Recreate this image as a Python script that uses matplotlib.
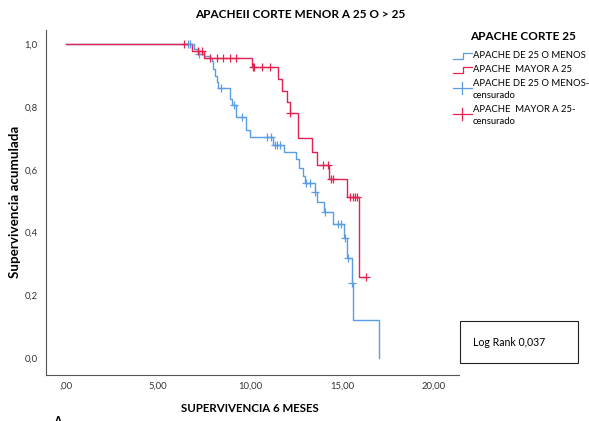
import matplotlib
matplotlib.use("Agg")
import matplotlib.pyplot as plt
import numpy as np
from matplotlib.patches import Rectangle

plt.rcParams['font.family'] = ['Lato', 'DejaVu Sans']

# Kaplan-Meier steps
red_t = [0, 6.85, 7.5, 10.1, 11.52, 11.74, 12.01, 12.17, 12.6, 13.37, 13.65, 14.3, 15.27, 15.92, 16.3]
red_s = [1.0, 0.978, 0.955, 0.927, 0.89, 0.85, 0.815, 0.78, 0.70, 0.656, 0.615, 0.57, 0.513, 0.258, 0.258]
red_cens = [6.4, 7.17, 7.39, 7.83, 8.2, 8.53, 8.91, 9.24, 10.16, 10.2, 10.65, 11.09, 12.2,
            13.97, 14.24, 14.4, 14.5, 15.43, 15.6, 15.7, 15.8, 16.3]

blue_t = [0, 6.95, 7.2, 7.5, 7.85, 7.93, 8.0, 8.1, 8.2, 8.26, 8.91, 9.02, 9.24, 9.78, 10.0,
          11.25, 11.85, 12.5, 12.66, 12.88, 12.99, 13.53, 13.64, 14.02, 14.51, 15.11, 15.27,
          15.54, 15.6, 17.0]
blue_s = [1.0, 0.985, 0.97, 0.962, 0.955, 0.945, 0.92, 0.90, 0.88, 0.86, 0.825, 0.805, 0.768,
          0.726, 0.704, 0.68, 0.656, 0.634, 0.605, 0.58, 0.557, 0.529, 0.497, 0.465, 0.427,
          0.382, 0.318, 0.239, 0.121, 0.0]
blue_cens = [6.63, 6.74, 7.25, 8.4, 9.13, 9.57, 10.92, 11.14, 11.36, 11.47, 11.63, 13.04,
             13.26, 13.55, 14.08, 14.78, 14.95, 15.14, 15.33, 15.57]

xticks = [0, 5, 10, 15, 20]
xtick_labels = [",00", "5,00", "10,00", "15,00", "20,00"]
yticks = [0.0, 0.2, 0.4, 0.6, 0.8, 1.0]
ytick_labels = ["0,0", "0,2", "0,4", "0,6", "0,8", "1,0"]

BLUE = '#5b9de3'
RED = '#e2224f'


def surv_at(times, surv, pts):
    idx = np.searchsorted(times, pts, side='right') - 1
    return np.array(surv)[idx]


fig = plt.figure(figsize=(5.89, 4.21), dpi=100)
ax = fig.add_axes([46/589, 46/421, 413/589, 345/421])

ax.step(blue_t, blue_s, where='post', color=BLUE, lw=1.0)
ax.step(red_t, red_s, where='post', color=RED, lw=1.0)
ax.plot(blue_cens, surv_at(blue_t, blue_s, blue_cens), '+', color=BLUE, ms=6, mew=0.9)
ax.plot(red_cens, surv_at(red_t, red_s, red_cens), '+', color=RED, ms=6, mew=0.9)

ax.set_xlim(-1.087, 21.36)
ax.set_ylim(-0.054, 1.045)
ax.set_xticks(xticks)
ax.set_xticklabels(xtick_labels)
ax.set_yticks(yticks)
ax.set_yticklabels(ytick_labels)
ax.tick_params(length=0, labelsize=6.8, colors='#333333')
ax.tick_params(axis='x', pad=5)
ax.tick_params(axis='y', pad=6)
for s in ['top', 'right']:
    ax.spines[s].set_visible(False)
for s in ['left', 'bottom']:
    ax.spines[s].set_color('#555555')
    ax.spines[s].set_linewidth(0.8)

# text and legend placed in pixel space
ov = fig.add_axes([0, 0, 1, 1], facecolor='none')
ov.set_xlim(0, 589)
ov.set_ylim(421, 0)
ov.axis('off')

ov.text(300, 15, "APACHEII CORTE MENOR A 25 O > 25", ha='center', va='center',
        fontsize=8.5, fontweight='bold')
ov.text(250, 408, "SUPERVIVENCIA 6 MESES", ha='center', va='center',
        fontsize=8.3, fontweight='bold')
ov.text(15, 202, "Supervivencia acumulada", ha='center', va='center', rotation=90,
        fontsize=9.6, fontweight='bold')
ov.text(57, 416, "A", ha='center', va='top', fontsize=9, fontweight='bold')

ov.text(523, 37, "APACHE CORTE 25", ha='center', va='center', fontsize=8.5, fontweight='bold')
ov.plot([453, 463, 463, 472], [59, 59, 53, 53], color=BLUE, lw=0.9)
ov.plot([453, 463, 463, 472], [73, 73, 67, 67], color=RED, lw=0.9)
ov.plot([453, 472], [88, 88], color=BLUE, lw=0.9)
ov.plot([462, 462], [82, 94], color=BLUE, lw=0.9)
ov.plot([453, 472], [114, 114], color=RED, lw=0.9)
ov.plot([462, 462], [108, 120], color=RED, lw=0.9)
leg_fs = 6.8
ov.text(473, 56, "APACHE DE 25 O MENOS", va='center', fontsize=leg_fs)
ov.text(473, 70, "APACHE  MAYOR A 25", va='center', fontsize=leg_fs)
ov.text(473, 83, "APACHE DE 25 O MENOS-", va='center', fontsize=leg_fs)
ov.text(473, 96, "censurado", va='center', fontsize=leg_fs)
ov.text(473, 109, "APACHE  MAYOR A 25-", va='center', fontsize=leg_fs)
ov.text(473, 121, "censurado", va='center', fontsize=leg_fs)

ov.add_patch(Rectangle((460, 321), 118, 42, fill=False, edgecolor='#222222', lw=0.8))
ov.text(473, 342, "Log Rank 0,037", va='center', fontsize=7.6)

fig.savefig("out.png", dpi=100)
